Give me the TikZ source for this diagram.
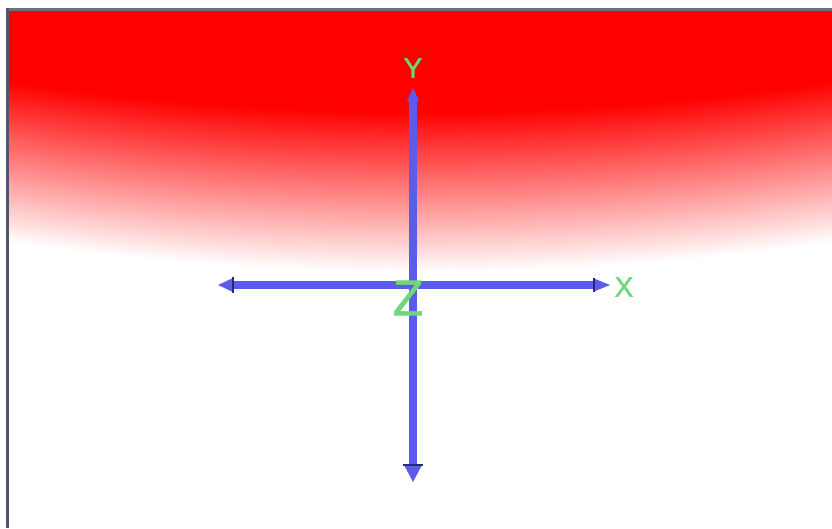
\documentclass[tikz,border=0pt]{standalone}
\usepackage{fontspec}
\setmainfont{Liberation Sans}
\newfontfamily\lblfont[FakeBold=1.3]{Liberation Sans}
\definecolor{axblue}{RGB}{92,92,236}
\definecolor{axdark}{RGB}{40,40,115}
\definecolor{lblgreen}{RGB}{112,214,122}
\definecolor{framegrey}{RGB}{112,112,118}
\definecolor{frameleft}{RGB}{84,84,112}
\begin{document}
\begin{tikzpicture}[x=1pt,y=-1pt,
  shaft/.style={line width=7.5pt,color=axblue},
  tipfill/.style={fill=axblue},
  tipbar/.style={draw=axdark,line width=2.5pt},
  lbl/.style={text=lblgreen,inner sep=0pt,font=\lblfont\fontsize{28}{28}\selectfont},
  bigl/.style={text=lblgreen,inner sep=0pt,font=\lblfont\fontsize{50}{50}\selectfont}]
\useasboundingbox (0,0) rectangle (832,528);
\fill[white] (0,0) rectangle (832,528);
% gradient background
\foreach \i in {0,...,80}{
  \pgfmathsetmacro\t{1-\i/80}
  \pgfmathsetmacro\yc{112+162*\t}
  \pgfmathsetmacro\ye{\yc-30}
  \pgfmathsetmacro\yk{\ye+40}
  \pgfmathsetmacro\p{100*(1-\t)}
  \fill[red!\p!white] (9,11) -- (9,\ye) .. controls (283.3,\yk) and (557.7,\yk) .. (832,\ye) -- (832,11) -- cycle;
}
% frame
\draw[framegrey,line width=3pt] (6,9.5) -- (832,9.5);
\draw[frameleft,line width=3pt] (7.5,8) -- (7.5,528);
% axes
\coordinate (O) at (413,285);
\coordinate (xp) at (610,285);
\coordinate (xn) at (218,285);
\coordinate (yp) at (413,88);
\coordinate (yn) at (413,482);
\draw[shaft] ([shift={(14,0)}]xn) -- ([shift={(-14,0)}]xp);
\draw[shaft] ([shift={(0,11)}]yp) -- ([shift={(0,-15)}]yn);
% tips
\fill[tipfill] (xp) -- ([shift={(-16,-6.5)}]xp) -- ([shift={(-16,6.5)}]xp) -- cycle;
\draw[tipbar] ([shift={(-16,-7)}]xp) -- ([shift={(-16,7)}]xp);
\fill[tipfill] (xn) -- ([shift={(15,-7)}]xn) -- ([shift={(15,7)}]xn) -- cycle;
\draw[tipbar] ([shift={(15,-8)}]xn) -- ([shift={(15,8)}]xn);
\fill[tipfill] (yp) -- ([shift={(-6,13)}]yp) -- ([shift={(6,13)}]yp) -- cycle;
\fill[tipfill] (yn) -- ([shift={(-9,-17)}]yn) -- ([shift={(9,-17)}]yn) -- cycle;
\draw[tipbar] ([shift={(-10,-17)}]yn) -- ([shift={(10,-17)}]yn);
% labels
\node[lbl] (ly) at (413,68) {Y};
\node[lbl] (lx) at (624,287) {X};
\node[bigl] (lz) at (408,298) {Z};
\end{tikzpicture}
\end{document}
